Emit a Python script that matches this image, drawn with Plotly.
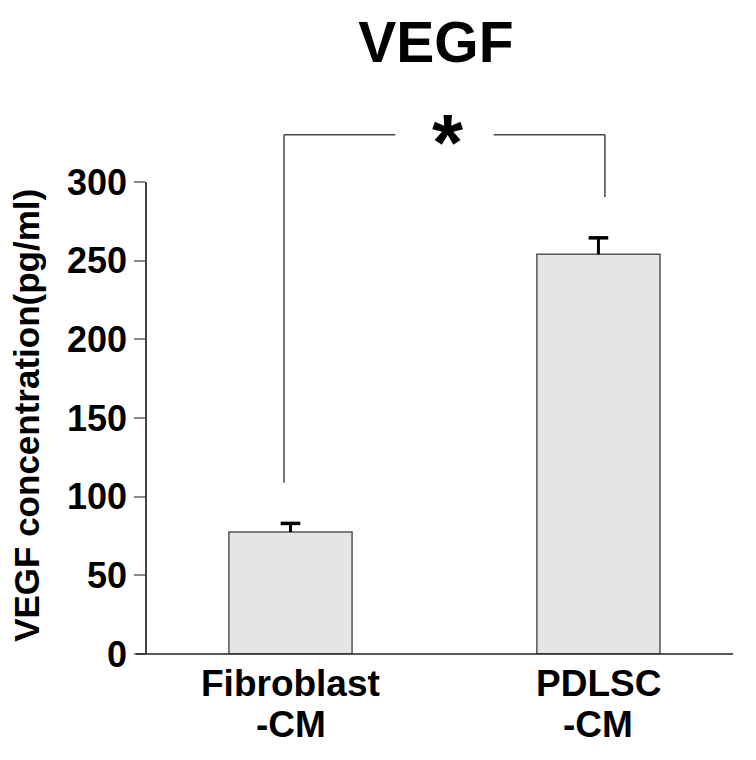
import plotly.graph_objects as go

# ---- data ----
categories = ["Fibroblast-CM", "PDLSC-CM"]
label_lines = [["Fibroblast", "-CM"], ["PDLSC", "-CM"]]
means = [77.5, 254]
errors = [5.5, 10.5]
y_ticks = [0, 50, 100, 150, 200, 250, 300]
title_text = "VEGF"
y_title = "VEGF concentration(pg/ml)"
sig_text = "*"

FONT = "Arial, Liberation Sans, sans-serif"
Y_MAX = 300
X_RANGE = [-0.466, 1.437]
PLOT_W = 586

def xp(i):
    return (i - X_RANGE[0]) / (X_RANGE[1] - X_RANGE[0])

def yp(v):
    return v / Y_MAX

fig = go.Figure()
fig.add_trace(go.Bar(
    x=categories, y=means, width=0.4,
    marker=dict(color="#e6e4e6", line=dict(color="#555555", width=1.5)),
))
# one-sided error bars: stem (no caps) + cap marker on top
tops = [m + e for m, e in zip(means, errors)]
fig.add_trace(go.Scatter(
    x=categories, y=tops, mode="markers",
    marker=dict(symbol="line-ew", size=14, line=dict(color="black", width=3.5)),
    error_y=dict(type="data", symmetric=False, array=[0, 0], arrayminus=errors,
                 color="black", thickness=3, width=0),
    cliponaxis=False,
))

shapes = []
# x-axis line (extends slightly left of y axis)
shapes.append(dict(type="line", xref="paper", yref="paper", x0=-11 / PLOT_W, x1=1, y0=0, y1=0,
                   line=dict(color="#222222", width=1.5)))

# significance bracket
bracket_top = 330
gap_after = 26
span = X_RANGE[1] - X_RANGE[0]
left_x = xp(0) - 0.021 / span
right_x = xp(1) + 0.021 / span
mid_x = (left_x + right_x) / 2
half_gap = 0.16 / span
left_bottom = means[0] + errors[0] + gap_after
right_bottom = means[1] + errors[1] + gap_after
bl = dict(color="#444444", width=1.5)
shapes += [
    dict(type="line", xref="paper", yref="paper", x0=left_x, x1=left_x,
         y0=yp(left_bottom), y1=yp(bracket_top), line=bl),
    dict(type="line", xref="paper", yref="paper", x0=left_x, x1=mid_x - half_gap,
         y0=yp(bracket_top), y1=yp(bracket_top), line=bl),
    dict(type="line", xref="paper", yref="paper", x0=mid_x + half_gap, x1=right_x,
         y0=yp(bracket_top), y1=yp(bracket_top), line=bl),
    dict(type="line", xref="paper", yref="paper", x0=right_x, x1=right_x,
         y0=yp(right_bottom), y1=yp(bracket_top), line=bl),
]

annotations = [
    dict(text=sig_text, xref="paper", yref="paper", x=mid_x, y=yp(bracket_top),
         xanchor="center", yanchor="middle", yshift=-8, xshift=4, showarrow=False,
         font=dict(family=FONT, size=80, color="black", weight="bold")),
    dict(text=y_title, xref="paper", yref="paper", x=-0.207, y=0.506, textangle=-90,
         xanchor="center", yanchor="middle", showarrow=False,
         font=dict(family=FONT, size=35, color="black", weight="bold")),
]
for cat, lines in zip(categories, label_lines):
    for k, ln in enumerate(lines):
        annotations.append(dict(text=ln, xref="x", yref="paper", x=cat, y=0,
                                xanchor="center", yanchor="middle", yshift=-29 - 41 * k,
                                showarrow=False,
                                font=dict(family=FONT, size=37, color="black", weight="bold")))

fig.update_layout(
    width=748, height=752,
    margin=dict(l=139, r=23, t=174, b=106),
    paper_bgcolor="white", plot_bgcolor="white",
    showlegend=False,
    title=dict(text=title_text, x=0.493, xref="paper", y=1 - 34 / 752, yref="container",
               xanchor="center", yanchor="middle",
               font=dict(family=FONT, size=57, color="black", weight="bold")),
    xaxis=dict(type="category", range=X_RANGE, showline=False, showticklabels=False,
               ticks="", showgrid=False, zeroline=False),
    yaxis=dict(range=[0, Y_MAX], tickvals=y_ticks, showline=True, linecolor="#444444",
               linewidth=1.5, ticks="outside", ticklen=11, tickcolor="#888888", tickwidth=1.5,
               showgrid=False, zeroline=False, ticklabelstandoff=0,
               tickfont=dict(family=FONT, size=36, color="black", weight="bold")),
    shapes=shapes, annotations=annotations,
)

fig.write_html("out.html")
